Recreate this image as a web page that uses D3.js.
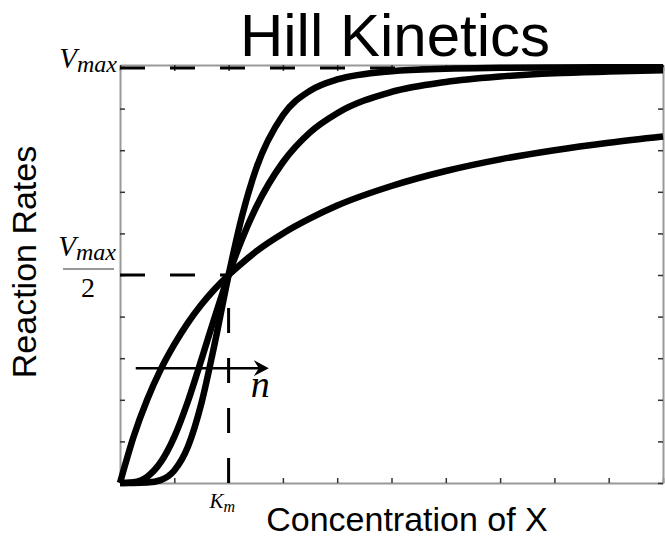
<!DOCTYPE html>
<html>
<head>
<meta charset="utf-8">
<script src="https://cdn.jsdelivr.net/npm/d3@7"></script>
<style>
  body { margin: 0; background: #fff; }
  svg { display: block; }
</style>
</head>
<body>
<script>
// concentration samples (units of x axis, Km = 2)
const xSamples = [0, 0.25, 0.5, 0.75, 1, 1.25, 1.5, 1.75, 2, 2.25, 2.5, 3, 3.5, 4, 5, 6, 7, 8, 9, 10];
// reaction rate / Vmax
const rateN1 = [0, 0.111, 0.2, 0.273, 0.333, 0.385, 0.429, 0.467, 0.5, 0.529, 0.556, 0.6, 0.636, 0.667, 0.714, 0.75, 0.778, 0.8, 0.818, 0.833];
const rateN3 = [0, 0.002, 0.015, 0.05, 0.111, 0.196, 0.297, 0.401, 0.5, 0.587, 0.661, 0.771, 0.843, 0.889, 0.94, 0.964, 0.977, 0.985, 0.989, 0.992];
const rateN5 = [0, 0, 0.001, 0.007, 0.03, 0.087, 0.192, 0.339, 0.5, 0.643, 0.753, 0.884, 0.943, 0.97, 0.99, 0.996, 0.998, 0.999, 0.9995, 0.9997];
const xTicks = [0, 1, 2, 3, 4, 5, 6, 7, 8, 9, 10];
const yTicks = [0, 0.1, 0.2, 0.3, 0.4, 0.5, 0.6, 0.7, 0.8, 0.9, 1];
const Km = 2;
const halfV = 0.5;
const arrowFrom = [0.29, 0.276];
const arrowTo = [2.74, 0.276];

const width = 665, height = 539;
const svg = d3.select("body").append("svg")
    .attr("width", width)
    .attr("height", height);

const x = d3.scaleLinear().domain([0, 10]).range([120, 663]);
const y = d3.scaleLinear().domain([0, 1]).range([483, 67]);

// axes box, ticks pointing inward, no labels
function styleAxis(g) {
    g.select(".domain").attr("stroke", "#999").attr("stroke-width", 2);
    g.selectAll(".tick line").attr("stroke", "#333").attr("stroke-width", 1.5);
}
svg.append("g").attr("transform", `translate(0,${y(0)})`)
    .call(d3.axisBottom(x).tickValues(xTicks).tickSize(-5).tickSizeOuter(0).tickFormat(""))
    .call(styleAxis);
svg.append("g").attr("transform", `translate(0,${y(1) - 2})`)
    .call(d3.axisTop(x).tickValues(xTicks).tickSize(-6).tickSizeOuter(0).tickFormat(""))
    .call(styleAxis);
svg.append("g").attr("transform", `translate(${x(0)},0)`)
    .call(d3.axisLeft(y).tickValues(yTicks).tickSize(-5).tickSizeOuter(0).tickFormat(""))
    .call(styleAxis);
svg.append("g").attr("transform", `translate(${x(10)},0)`)
    .call(d3.axisRight(y).tickValues(yTicks).tickSize(-5).tickSizeOuter(0).tickFormat(""))
    .call(styleAxis);

// dashed guides
const guides = svg.append("g")
    .attr("stroke", "black")
    .attr("stroke-width", 3)
    .attr("stroke-dasharray", "25,25")
    .attr("fill", "none");
guides.append("line")
    .attr("x1", x(0)).attr("x2", x(10))
    .attr("y1", y(1) + 1).attr("y2", y(1) + 1);
guides.append("line")
    .attr("x1", x(0)).attr("x2", x(Km))
    .attr("y1", y(halfV)).attr("y2", y(halfV));
guides.append("line")
    .attr("x1", x(Km)).attr("x2", x(Km))
    .attr("y1", y(0)).attr("y2", y(halfV));

// hill curves
const line = d3.line()
    .x(d => x(d[0]))
    .y(d => y(d[1]))
    .curve(d3.curveMonotoneX);

[rateN1, rateN3, rateN5].forEach(r => {
    svg.append("path")
        .datum(xSamples.map((v, i) => [v, r[i]]))
        .attr("fill", "none")
        .attr("stroke", "black")
        .attr("stroke-width", 6.5)
        .attr("stroke-linejoin", "round")
        .attr("d", line);
});

// arrow for increasing n
const ax1 = x(arrowFrom[0]), ax2 = x(arrowTo[0]), ay = y(arrowFrom[1]);
svg.append("line")
    .attr("x1", ax1).attr("x2", ax2 - 4)
    .attr("y1", ay).attr("y2", ay)
    .attr("stroke", "black")
    .attr("stroke-width", 2.5);
svg.append("path")
    .attr("d", `M${ax2},${ay} L${ax2 - 15},${ay - 8} L${ax2 - 10},${ay} L${ax2 - 15},${ay + 8} Z`)
    .attr("fill", "black");

const mathFont = "'Liberation Serif', 'DejaVu Serif', serif";

svg.append("text")
    .attr("x", ax2 - 18).attr("y", ay + 29)
    .attr("font-family", mathFont)
    .attr("font-style", "italic")
    .attr("font-size", 38)
    .text("n");

// V_max label
const vmax = svg.append("text")
    .attr("x", 117).attr("y", y(1) + 1)
    .attr("text-anchor", "end")
    .attr("font-family", mathFont)
    .attr("font-style", "italic")
    .attr("font-size", 29);
vmax.append("tspan").text("V");
vmax.append("tspan").attr("dy", 4).attr("font-size", 24).text("max");

// V_max / 2 label
const half = svg.append("text")
    .attr("x", 116).attr("y", y(halfV) - 19)
    .attr("text-anchor", "end")
    .attr("font-family", mathFont)
    .attr("font-style", "italic")
    .attr("font-size", 29);
half.append("tspan").text("V");
half.append("tspan").attr("dy", 4).attr("font-size", 24).text("max");
svg.append("line")
    .attr("x1", 63).attr("x2", 114)
    .attr("y1", y(halfV) - 6).attr("y2", y(halfV) - 6)
    .attr("stroke", "#333").attr("stroke-width", 1.2);
svg.append("text")
    .attr("x", 88).attr("y", y(halfV) + 22)
    .attr("text-anchor", "middle")
    .attr("font-family", mathFont)
    .attr("font-size", 28)
    .text("2");

// K_m label
const km = svg.append("text")
    .attr("x", x(Km) - 19).attr("y", 508)
    .attr("font-family", mathFont)
    .attr("font-style", "italic")
    .attr("font-size", 21);
km.append("tspan").text("K");
km.append("tspan").attr("dy", 4).attr("font-size", 16).text("m");

// titles
const sans = "'Liberation Sans', Arial, sans-serif";
svg.append("text")
    .attr("x", 395).attr("y", 56)
    .attr("text-anchor", "middle")
    .attr("font-family", sans)
    .attr("font-size", 60)
    .text("Hill Kinetics");

svg.append("text")
    .attr("x", 407).attr("y", 531)
    .attr("text-anchor", "middle")
    .attr("font-family", sans)
    .attr("font-size", 34)
    .text("Concentration of X");

svg.append("text")
    .attr("transform", `translate(36,262) rotate(-90)`)
    .attr("text-anchor", "middle")
    .attr("font-family", sans)
    .attr("font-size", 34)
    .text("Reaction Rates");
</script>
</body>
</html>
